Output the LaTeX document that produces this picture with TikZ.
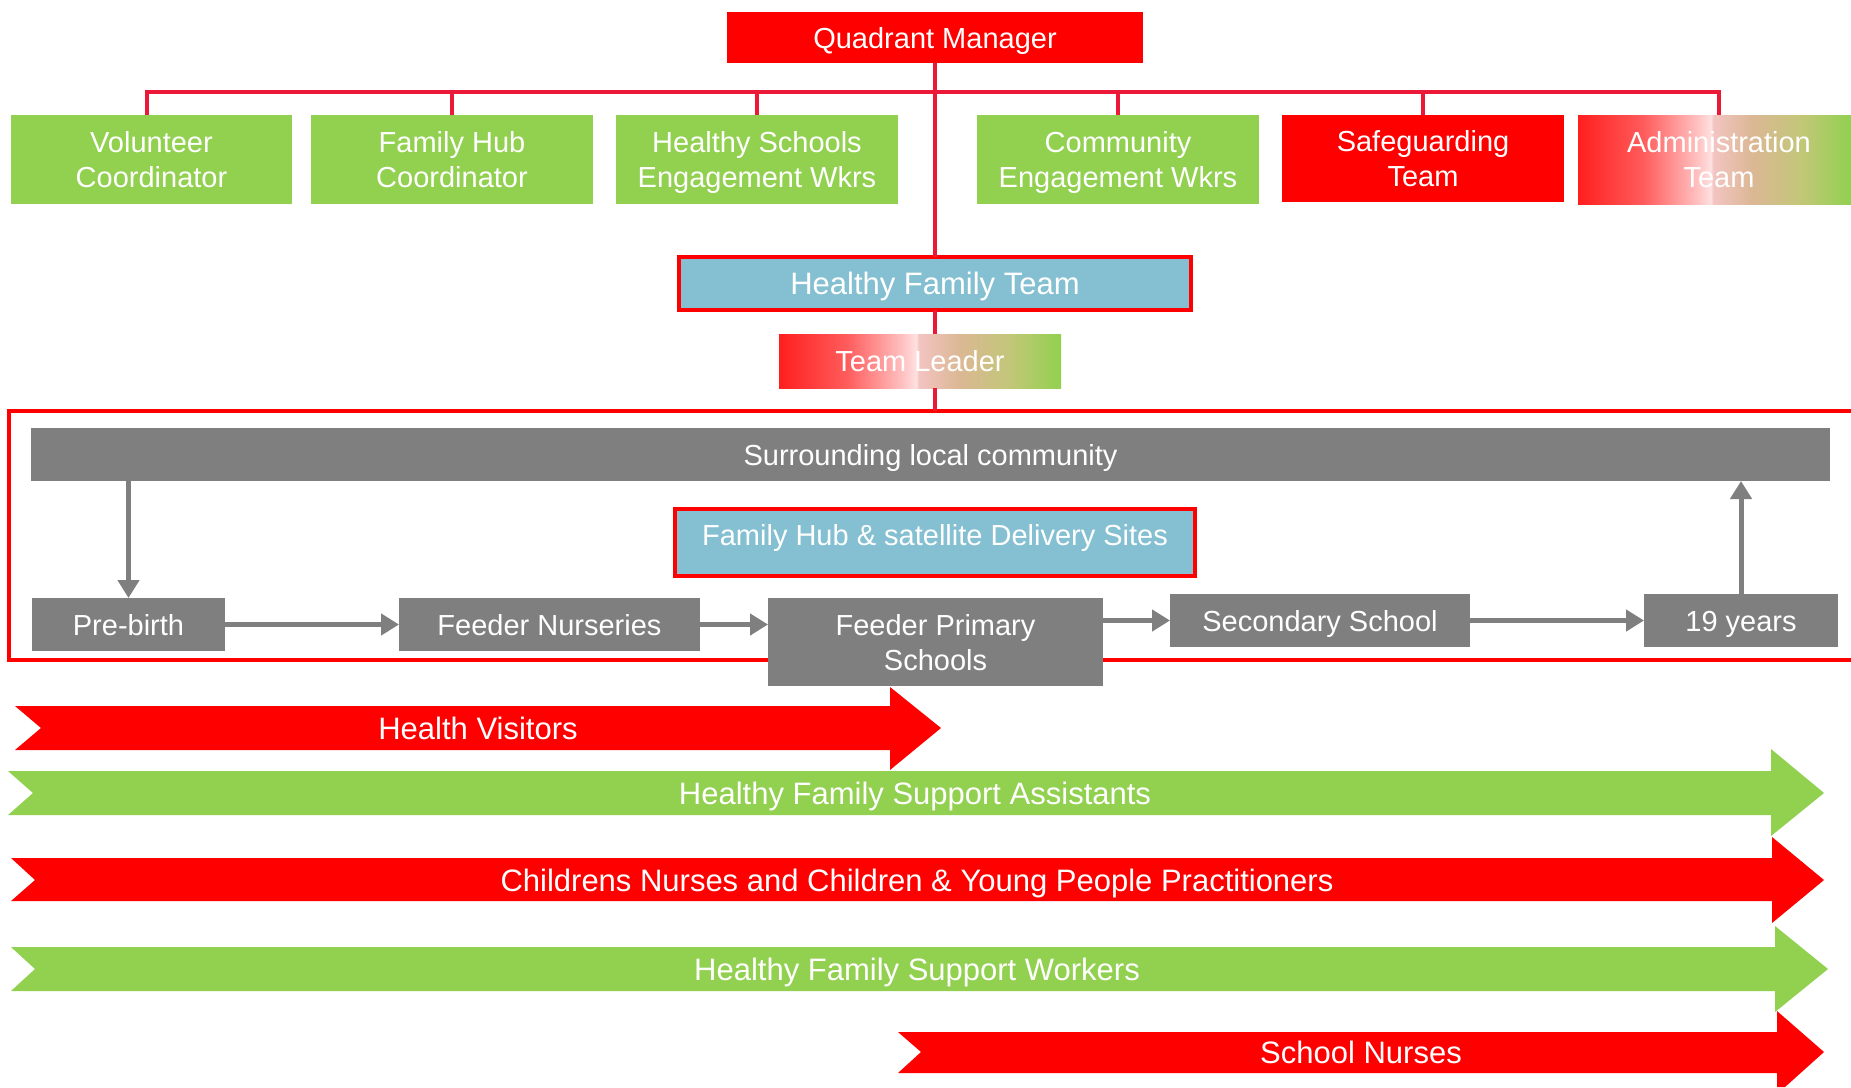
\documentclass[tikz,border=0pt]{standalone}
\usepackage{fontspec}
\setmainfont{Liberation Sans}
\usetikzlibrary{arrows.meta}
\definecolor{qred}{RGB}{255,0,0}
\definecolor{qgreen}{RGB}{146,208,80}
\definecolor{qgray}{RGB}{127,127,127}
\definecolor{qblue}{RGB}{132,192,209}
\definecolor{qline}{RGB}{235,25,55}
\pgfdeclarehorizontalshading{tlshade}{100bp}{rgb(0bp)=(1,0.12,0.12); rgb(25bp)=(1,0.12,0.12); rgb(37bp)=(1,0.36,0.36); rgb(47bp)=(1,0.76,0.76); rgb(49.3bp)=(1,0.88,0.88); rgb(49.8bp)=(0.95,0.77,0.76); rgb(57bp)=(0.86,0.72,0.58); rgb(66bp)=(0.76,0.78,0.47); rgb(75bp)=(0.57,0.82,0.31); rgb(100bp)=(0.57,0.82,0.31)}
% struts: height minus depth equals cap height, so capitals sit centred
\newcommand\qsa{\rule[-7pt]{0pt}{35pt}}
\newcommand\qsb{\rule[-7pt]{0pt}{36pt}}
\newcommand\qsc{\rule[-23pt]{0pt}{51pt}}
\tikzset{
  box/.style={inner sep=0pt, outer sep=0pt, align=center, text=white, font=\fontsize{29}{35}\selectfont},
  gbox/.style={box, fill=qgreen},
  rbox/.style={box, fill=qred},
  greybox/.style={box, fill=qgray},
  bluebox/.style={box, fill=qblue, draw=qred, line width=4pt},
  shadebox/.style={box, shading=tlshade},
  conn/.style={draw=qline, line width=3.5pt},
  flow/.style={draw=qgray, line width=5pt, -{Triangle[width=21pt,length=18pt]}},
  chevtext/.style={inner sep=0pt, text=white, font=\fontsize{31}{37}\selectfont},
}
\begin{document}
\begin{tikzpicture}[x=1pt,y=-1pt]
\useasboundingbox (0,0) rectangle (1851,1087);
\fill[white] (0,0) rectangle (1851,1087);

% top level
\node[rbox, minimum width=416pt, minimum height=51pt] (qm) at (935,37.5) {\qsa Quadrant Manager};
\node[gbox, minimum width=281pt, minimum height=89pt] (vol) at (151.5,159.5) {\qsa Volunteer\\\qsa Coordinator};
\node[gbox, minimum width=282pt, minimum height=89pt] (fhc) at (452,159.5) {\qsa Family Hub\\\qsa Coordinator};
\node[gbox, minimum width=282pt, minimum height=89pt] (hse) at (757,159.5) {\qsa Healthy Schools\\\qsa Engagement Wkrs};
\node[gbox, minimum width=282pt, minimum height=89pt] (cew) at (1118,159.5) {\qsa Community\\\qsa Engagement Wkrs};
\node[rbox, minimum width=282pt, minimum height=87pt] (sg) at (1423,158.5) {\qsa Safeguarding\\\qsa Team};
\node[shadebox, minimum width=273pt, minimum height=89pt] (adm) at (1714.5,159.5) {\qsa\hspace*{9pt}Administration\\\qsa\hspace*{9pt}Team};

\node[bluebox, minimum width=512pt, minimum height=53pt, font=\fontsize{31}{37}\selectfont] (hft) at (935,283.5) {\qsb Healthy Family Team};
\node[shadebox, minimum width=282pt, minimum height=54pt] (tl) at (920,361) {\qsa Team Leader};

% bus
\coordinate (busL) at (147,92);
\coordinate (busR) at (1719,92);
\draw[conn] (busL |- vol.north) -- (busL) -- (busR) -- (busR |- adm.north);
\draw[conn] (fhc.north) -- (fhc.north |- busL);
\draw[conn] (hse.north) -- (hse.north |- busL);
\draw[conn] (cew.north) -- (cew.north |- busL);
\draw[conn] (sg.north) -- (sg.north |- busL);
\draw[conn] (qm.south) -- (hft.north);
\draw[conn] (hft.south) -- (hft.south |- tl.north);

% frame
\coordinate (frTR) at (1851,411);
\coordinate (frTL) at (9,411);
\coordinate (frBL) at (9,660);
\coordinate (frBR) at (1851,660);
\draw[qred, line width=4pt] (frTR) -- (frTL) -- (frBL) -- (frBR);
\draw[conn] (hft.south |- tl.south) -- (hft.south |- frTR);

% inner content
\node[greybox, minimum width=1799pt, minimum height=53pt] (slc) at (930.5,454.5) {\qsa Surrounding local community};
\node[bluebox, minimum width=520pt, minimum height=67pt] (fhs) at (935,542.5) {\qsc Family Hub \& satellite Delivery Sites};
\node[greybox, minimum width=193pt, minimum height=53pt] (pb) at (128.5,624.5) {\qsa Pre-birth};
\node[greybox, minimum width=301pt, minimum height=53pt] (fn) at (549.5,624.5) {\qsa Feeder Nurseries};
\node[greybox, minimum width=335pt, minimum height=88pt] (fps) at (935.5,642) {\qsa Feeder Primary\\\qsa Schools};
\node[greybox, minimum width=300pt, minimum height=53pt] (ss) at (1320,620.5) {\qsa Secondary School};
\node[greybox, minimum width=194pt, minimum height=53pt] (y19) at (1741,620.5) {\qsa 19 years};

\draw[flow] (slc.south -| pb.north) -- (pb.north);
\draw[flow] (pb.east) -- (fn.west);
\draw[flow] (fn.east) -- (fn.east -| fps.west);
\draw[flow] (ss.west -| fps.east) -- (ss.west);
\draw[flow] (ss.east) -- (y19.west);
\draw[flow] (y19.north) -- (y19.north |- slc.south);

% chevron bands
\fill[qred] (15,706) -- (890,706) -- (890,687) -- (941,728) -- (890,770) -- (890,750) -- (15,750) -- (41,728) -- cycle;
\node[chevtext] (hv) at (478,728) {\qsb Health Visitors};

\fill[qgreen] (8,771) -- (1771,771) -- (1771,749) -- (1824,793) -- (1771,836) -- (1771,815) -- (8,815) -- (33,793) -- cycle;
\node[chevtext] (hfsa) at (915,793) {\qsb Healthy Family Support Assistants};

\fill[qred] (11,858) -- (1772,858) -- (1772,837) -- (1824,880) -- (1772,923) -- (1772,901) -- (11,901) -- (35,880) -- cycle;
\node[chevtext] (cn) at (917,880) {\qsb Childrens Nurses and Children \& Young People Practitioners};

\fill[qgreen] (11,947) -- (1775,947) -- (1775,926) -- (1828,969) -- (1775,1012) -- (1775,991) -- (11,991) -- (35,969) -- cycle;
\node[chevtext] (hfsw) at (917,969) {\qsb Healthy Family Support Workers};

\fill[qred] (898,1032) -- (1777,1032) -- (1777,1011) -- (1824,1052) -- (1785,1087) -- (1777,1087) -- (1777,1073) -- (898,1073) -- (921,1052) -- cycle;
\node[chevtext] (sn) at (1361,1052) {\qsb School Nurses};
\end{tikzpicture}
\end{document}
